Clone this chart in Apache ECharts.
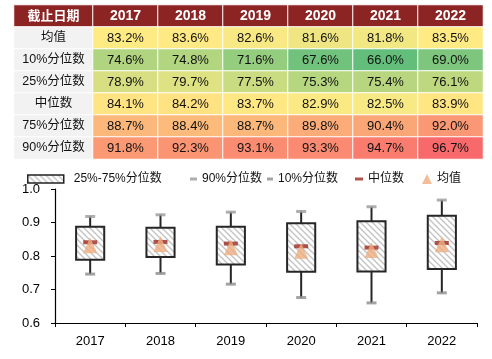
<!DOCTYPE html>
<html><head><meta charset="utf-8">
<script src="https://cdn.jsdelivr.net/npm/echarts@6/dist/echarts.min.js"></script>
<style>html,body{margin:0;padding:0;background:#fff}#c{width:492px;height:359px}</style>
</head><body><div id="c"></div>
<script>
// ---- data ----
const years = ['2017', '2018', '2019', '2020', '2021', '2022'];
const headerLabel = '截止日期';
const rowNames = ['均值', '10%分位数', '25%分位数', '中位数', '75%分位数', '90%分位数'];
const mean   = [83.2, 83.6, 82.6, 81.6, 81.8, 83.5];
const p10    = [74.6, 74.8, 71.6, 67.6, 66.0, 69.0];
const p25    = [78.9, 79.7, 77.5, 75.3, 75.4, 76.1];
const median = [84.1, 84.2, 83.7, 82.9, 82.5, 83.9];
const p75    = [88.7, 88.4, 88.7, 89.8, 90.4, 92.0];
const p90    = [91.8, 92.3, 93.1, 93.3, 94.7, 96.7];
const legendNames = ['25%-75%分位数', '90%分位数', '10%分位数', '中位数', '均值'];

// ---- styling helpers ----
const FONT = "'Liberation Sans', Arial, 'Noto Sans CJK SC', sans-serif";
const tableRows = [mean, p10, p25, median, p75, p90];
const allVals = tableRows.flat().slice().sort((a, b) => a - b);
const vMin = allVals[0], vMax = allVals[allVals.length - 1];
const vMid = (allVals[allVals.length / 2 - 1] + allVals[allVals.length / 2]) / 2;
const cLow = [99, 190, 123], cMid = [255, 235, 132], cHigh = [248, 105, 107];
function mix(a, b, t) { return 'rgb(' + a.map((v, i) => Math.round(v + (b[i] - v) * t)).join(',') + ')'; }
function scaleColor(v) {
  if (v <= vMid) return mix(cLow, cMid, (v - vMin) / (vMid - vMin));
  return mix(cMid, cHigh, (v - vMid) / (vMax - vMid));
}
const HEAD = '#8c2424';
const pc = document.createElement('canvas'); pc.width = 6; pc.height = 6;
const pctx = pc.getContext('2d');
pctx.fillStyle = '#fff'; pctx.fillRect(0, 0, 6, 6);
pctx.strokeStyle = '#c4c4c4'; pctx.lineWidth = 1.4;
pctx.beginPath();
pctx.moveTo(-1, -1); pctx.lineTo(7, 7);
pctx.moveTo(-1, 5); pctx.lineTo(1, 7);
pctx.moveTo(5, -1); pctx.lineTo(7, 1);
pctx.stroke();
const hatch = { image: pc, repeat: 'repeat' };

const allRowLabels = [headerLabel].concat(rowNames);

// label column data
const labelColData = allRowLabels.map((name, r) => ({
  value: [0, r, r],
  itemStyle: { color: r === 0 ? HEAD : '#f2f2f2' },
  label: r === 0
    ? { color: '#fff', fontWeight: 'bold', fontSize: 13 }
    : { color: '#111', fontSize: 12.5 }
}));
// value table data
const valueData = [];
years.forEach((y, c) => {
  valueData.push({ value: [c, 0, y], itemStyle: { color: HEAD }, label: { color: '#fff', fontWeight: 'bold', fontSize: 14 } });
});
tableRows.forEach((arr, r) => {
  arr.forEach((v, c) => {
    valueData.push({ value: [c, r + 1, v], itemStyle: { color: scaleColor(v) }, label: { color: '#111', fontSize: 13 } });
  });
});

const boxData = years.map((y, i) => [i, p10[i] / 100, p25[i] / 100, p75[i] / 100, p90[i] / 100]);
const toChart = arr => years.map((y, i) => [i, arr[i] / 100]);
const legText = { fontSize: 12, color: '#111', fontFamily: FONT };

const chart = echarts.init(document.getElementById('c'));
chart.setOption({
  animation: false,
  textStyle: { fontFamily: FONT },
  grid: [
    { left: 14, top: 5, width: 79, height: 154 },
    { left: 93, top: 5, width: 390, height: 154 },
    { left: 55, right: 15, top: 189, bottom: 36 }
  ],
  xAxis: [
    { gridIndex: 0, type: 'category', data: [''], show: false },
    { gridIndex: 1, type: 'category', data: years, show: false },
    {
      gridIndex: 2, type: 'category', data: years,
      axisLine: { lineStyle: { color: '#000', width: 1.2 } },
      axisTick: { show: true, length: 4, lineStyle: { color: '#000' } },
      axisLabel: { color: '#000', fontSize: 13, margin: 12, fontFamily: FONT }
    }
  ],
  yAxis: [
    { gridIndex: 0, type: 'category', data: allRowLabels, inverse: true, show: false },
    { gridIndex: 1, type: 'category', data: allRowLabels, inverse: true, show: false },
    {
      gridIndex: 2, type: 'value', min: 0.6, max: 1.0, interval: 0.1,
      axisLine: { show: true, lineStyle: { color: '#000', width: 1.2 } },
      axisTick: { show: true, length: 4, lineStyle: { color: '#000' } },
      splitLine: { show: false },
      axisLabel: { color: '#000', fontSize: 13, margin: 15, fontFamily: FONT, formatter: v => v.toFixed(1) }
    }
  ],
  legend: [
    { data: [{ name: legendNames[0], icon: 'rect', itemStyle: { color: hatch, borderColor: '#222', borderWidth: 1.5 } }],
      left: 22, top: 168, itemWidth: 36, itemHeight: 8, selectedMode: false, textStyle: Object.assign({ padding: [0, 0, 0, 5] }, legText) },
    { data: [{ name: legendNames[1], icon: 'rect' }], left: 185, top: 168, itemWidth: 7, itemHeight: 3, selectedMode: false, textStyle: legText },
    { data: [{ name: legendNames[2], icon: 'rect' }], left: 262, top: 168, itemWidth: 6, itemHeight: 3, selectedMode: false, textStyle: legText },
    { data: [{ name: legendNames[3], icon: 'rect' }], left: 350, top: 168, itemWidth: 8, itemHeight: 3, selectedMode: false, textStyle: legText },
    { data: [{ name: legendNames[4], icon: 'triangle' }], left: 417, top: 168, itemWidth: 10, itemHeight: 10, selectedMode: false, textStyle: legText }
  ],
  series: [
    {
      type: 'heatmap', xAxisIndex: 0, yAxisIndex: 0, data: labelColData,
      itemStyle: { borderColor: '#fff', borderWidth: 1 },
      label: { show: true, fontFamily: FONT, formatter: p => allRowLabels[p.value[2]] },
      emphasis: { disabled: true }
    },
    {
      type: 'heatmap', xAxisIndex: 1, yAxisIndex: 1, data: valueData,
      itemStyle: { borderColor: '#fff', borderWidth: 1 },
      label: { show: true, fontFamily: FONT, formatter: p => (typeof p.value[2] === 'number' ? p.value[2].toFixed(1) + '%' : p.value[2]) },
      emphasis: { disabled: true }
    },
    {
      name: legendNames[0], type: 'custom', xAxisIndex: 2, yAxisIndex: 2, data: boxData,
      encode: { x: 0, y: [1, 2, 3, 4] },
      itemStyle: { color: hatch, borderColor: '#222' },
      renderItem: (params, api) => {
        const x = api.value(0);
        const lo = api.coord([x, api.value(1)]);
        const q1 = api.coord([x, api.value(2)]);
        const q3 = api.coord([x, api.value(3)]);
        const hi = api.coord([x, api.value(4)]);
        const w = api.size([1, 0])[0] * 0.4;
        const ls = { stroke: '#262626', lineWidth: 2 };
        return {
          type: 'group', children: [
            { type: 'line', shape: { x1: lo[0], y1: lo[1], x2: q1[0], y2: q1[1] }, style: ls },
            { type: 'line', shape: { x1: q3[0], y1: q3[1], x2: hi[0], y2: hi[1] }, style: ls },
            { type: 'rect', shape: { x: q3[0] - w / 2, y: q3[1], width: w, height: q1[1] - q3[1] },
              style: { fill: hatch, stroke: '#262626', lineWidth: 2 } }
          ]
        };
      }
    },
    { name: legendNames[1], type: 'scatter', xAxisIndex: 2, yAxisIndex: 2, data: toChart(p90), symbol: 'rect', symbolSize: [10, 3], itemStyle: { color: '#9a9a9a' }, z: 3 },
    { name: legendNames[2], type: 'scatter', xAxisIndex: 2, yAxisIndex: 2, data: toChart(p10), symbol: 'rect', symbolSize: [10, 3], itemStyle: { color: '#8c8c8c' }, z: 3 },
    { name: legendNames[3], type: 'scatter', xAxisIndex: 2, yAxisIndex: 2, data: toChart(median), symbol: 'rect', symbolSize: [14, 4], itemStyle: { color: '#9b2a22' }, z: 4 },
    { name: legendNames[4], type: 'scatter', xAxisIndex: 2, yAxisIndex: 2, data: toChart(mean), symbol: 'triangle', symbolSize: [14, 16], itemStyle: { color: '#efae80' }, z: 5 }
  ]
});
</script></body></html>
